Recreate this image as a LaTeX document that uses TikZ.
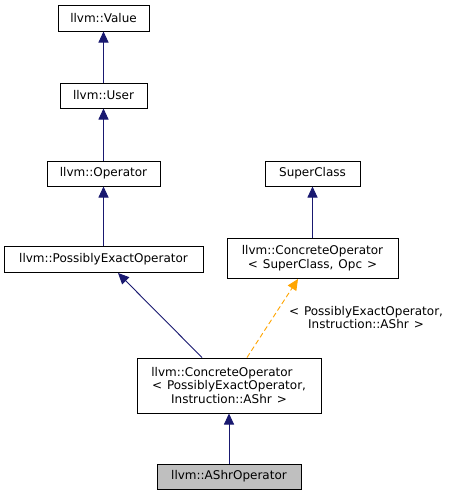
\documentclass[tikz,border=0pt]{standalone}
\usepackage{fontspec}
\setmainfont{DejaVu Sans}
\usetikzlibrary{arrows.meta}
\newcommand{\dxfont}{\fontsize{12}{13.5}\selectfont\spaceskip=5pt plus 1pt\relax}
\begin{document}
\begin{tikzpicture}[x=1pt,y=-1pt,
  cls/.style={draw=black, line width=1pt, fill=white, inner sep=0pt, font=\dxfont, align=center},
  inh/.style={draw=midnightblue, line width=0.9pt, -{Triangle[length=11pt,width=10pt]}, shorten >=0pt},
  tmpl/.style={draw=orange, line width=0.9pt, dashed, dash pattern=on 5pt off 3pt, -{Triangle[length=11pt,width=10pt]}},
]
\definecolor{midnightblue}{HTML}{191970}
\definecolor{orange}{HTML}{FFA500}
\useasboundingbox (0,0) rectangle (453,496);
\path[fill=white] (0,0) rectangle (453,496);
\node[cls, minimum width=91pt, minimum height=26pt] (value) at (103.5,18) {llvm::Value};
\node[cls, minimum width=87pt, minimum height=25pt] (user) at (103.5,95.5) {llvm::User};
\node[cls, minimum width=113pt, minimum height=25pt] (op) at (103.5,173.5) {llvm::Operator};
\node[cls, minimum width=199pt, minimum height=26pt] (peo) at (103.5,259) {llvm::PossiblyExactOperator};
\node[cls, minimum width=95pt, minimum height=25pt] (super) at (312.5,173.5) {SuperClass};
\node[cls, minimum width=171pt, minimum height=40pt] (cop) at (312.5,258) {llvm::ConcreteOperator\\\textless{} SuperClass, Opc \textgreater};
\node[cls, minimum width=184pt, minimum height=55pt] (cpeo) at (229,385.5) {llvm::ConcreteOperator\hspace*{14pt}\\\textless{} PossiblyExactOperator,\\Instruction::AShr \textgreater};
\node[cls, fill={rgb,255:red,191;green,191;blue,191}, minimum width=144pt, minimum height=25pt] (ashr) at (229,476.5) {llvm::AShrOperator};
\draw[inh] (user) -- (value);
\draw[inh] (op) -- (user);
\draw[inh] (peo) -- (op);
\draw[inh] (cop) -- (super);
\draw[inh] (ashr) -- (cpeo);
\draw[inh] (cpeo.north -| 202,0) -- (118,273);
\draw[tmpl] (cpeo.north -| 247,0) -- (298,279);
\node[font=\dxfont, align=center, inner sep=0pt] (lbl) at (366,317.5) {\textless{} PossiblyExactOperator,\\Instruction::AShr \textgreater};
\end{tikzpicture}
\end{document}
